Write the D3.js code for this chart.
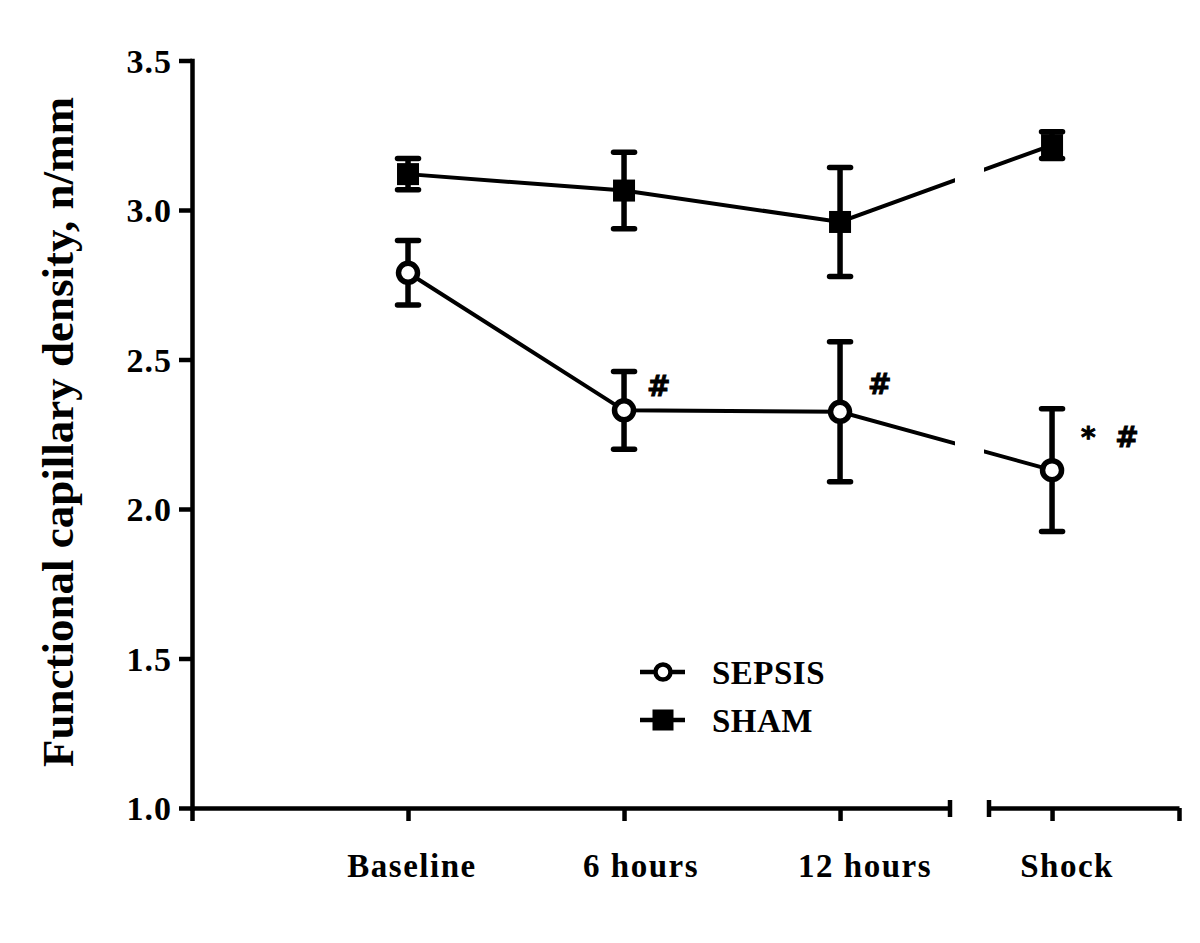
<!DOCTYPE html>
<html>
<head>
<meta charset="utf-8">
<script src="https://cdn.jsdelivr.net/npm/d3@7"></script>
<style>
  html, body { margin: 0; padding: 0; background: #fff; }
  svg { display: block; }
</style>
</head>
<body>
<svg id="chart" width="1200" height="943"></svg>
<script>
// ---------------- DATA ----------------
const categories = ["Baseline", "6 hours", "12 hours", "Shock"];
const sepsisMean = [2.79, 2.33, 2.325, 2.13];
const sepsisErr  = [0.108, 0.13, 0.234, 0.205];
const shamMean   = [3.12, 3.065, 2.96, 3.217];
const shamErr    = [0.052, 0.128, 0.182, 0.045];
const yTicks     = [1.0, 1.5, 2.0, 2.5, 3.0, 3.5];
const seriesNames = ["SEPSIS", "SHAM"];
const yTitle = "Functional capillary density, n/mm";
const annotations = [
  { series: "SEPSIS", cat: "6 hours",  text: "#" },
  { series: "SEPSIS", cat: "12 hours", text: "#" },
  { series: "SEPSIS", cat: "Shock",    text: "* #" }
];

// ---------------- LAYOUT ----------------
const svg = d3.select("#chart");
const serif = "'Liberation Serif', 'Times New Roman', serif";
const axisW = 4.5;

const y = d3.scaleLinear().domain([1, 3.5]).range([808, 60.5]);
// broken x axis: two segments sharing the same unit size
const xA = d3.scaleLinear().domain([-1, 2.509]).range([192, 950]);
const xB = d3.scaleLinear().domain([2.708, 3.588]).range([989, 1179]);
const xi = i => (i <= 2 ? xA(i) : xB(i));
const gapLo = 955, gapHi = 984;

const series = [
  { name: "SEPSIS", mean: sepsisMean, err: sepsisErr, shape: "circle" },
  { name: "SHAM",   mean: shamMean,   err: shamErr,   shape: "square" }
];

// clip path removing the axis-break gap from the connecting lines
const defs = svg.append("defs");
const cp = defs.append("clipPath").attr("id", "gapclip");
cp.append("rect").attr("x", 0).attr("y", 0).attr("width", gapLo).attr("height", 943);
cp.append("rect").attr("x", gapHi).attr("y", 0).attr("width", 1200 - gapHi).attr("height", 943);

// ---------------- AXES ----------------
const yAxis = d3.axisLeft(y).tickValues(yTicks).tickFormat(d3.format(".1f"))
  .tickSize(13).tickSizeOuter(0).tickPadding(7);
const gy = svg.append("g").attr("transform", `translate(${xA(-1)},0)`).call(yAxis);
gy.selectAll("path, line").attr("stroke", "#000").attr("stroke-width", axisW);
gy.select(".domain").attr("stroke-linecap", "square");
gy.selectAll("text").attr("font-family", serif).attr("font-weight", "bold")
  .attr("font-size", 34).attr("letter-spacing", 1).attr("fill", "#000").attr("dy", "0.34em");

const xAxisA = d3.axisBottom(xA).tickValues([-1, 0, 1, 2]).tickFormat("").tickSize(13).tickSizeOuter(0);
const xAxisB = d3.axisBottom(xB).tickValues([3, 3.588]).tickFormat("").tickSize(13).tickSizeOuter(0);
const gxA = svg.append("g").attr("transform", `translate(0,${y(1)})`).call(xAxisA);
const gxB = svg.append("g").attr("transform", `translate(0,${y(1)})`).call(xAxisB);
[gxA, gxB].forEach(g => g.selectAll("path, line").attr("stroke", "#000").attr("stroke-width", axisW));
// break caps
[xA.range()[1], xB.range()[0]].forEach(xx => {
  svg.append("line").attr("x1", xx).attr("x2", xx)
    .attr("y1", y(1) - 8).attr("y2", y(1) + 9)
    .attr("stroke", "#000").attr("stroke-width", axisW);
});

// category labels
const labelDx = [4, 17, 25, 15];
svg.append("g").selectAll("text").data(categories).join("text")
  .attr("x", (d, i) => xi(i) + labelDx[i])
  .attr("y", 877)
  .attr("text-anchor", "middle")
  .attr("font-family", serif).attr("font-weight", "bold").attr("font-size", 33)
  .attr("letter-spacing", 1.5)
  .text(d => d);

// y title
svg.append("text")
  .attr("transform", "translate(73,432) rotate(-90)")
  .attr("text-anchor", "middle")
  .attr("font-family", serif).attr("font-weight", "bold").attr("font-size", 45)
  .text(yTitle);

// ---------------- DATA MARKS ----------------
const line = d3.line().x((d, i) => xi(i)).y(d => y(d));
series.forEach(s => {
  svg.append("path").datum(s.mean)
    .attr("d", line)
    .attr("fill", "none").attr("stroke", "#000").attr("stroke-width", 4)
    .attr("clip-path", "url(#gapclip)");
});

// error bars
series.forEach(s => {
  const g = svg.append("g");
  s.mean.forEach((m, i) => {
    const cx = xi(i), hi = y(m + s.err[i]), lo = y(m - s.err[i]);
    g.append("line").attr("x1", cx).attr("x2", cx).attr("y1", hi).attr("y2", lo)
      .attr("stroke", "#000").attr("stroke-width", 5.5);
    [hi, lo].forEach(yy => g.append("line")
      .attr("x1", cx - 10.5).attr("x2", cx + 10.5).attr("y1", yy).attr("y2", yy)
      .attr("stroke", "#000").attr("stroke-width", 5.5).attr("stroke-linecap", "round"));
  });
});

// markers
function drawMarker(g, shape, cx, cy, big) {
  if (shape === "circle") {
    g.append("circle").attr("cx", cx).attr("cy", cy).attr("r", big ? 9.5 : 7.5)
      .attr("fill", "#fff").attr("stroke", "#000").attr("stroke-width", big ? 5.5 : 4.5);
  } else {
    const s = big ? 22 : 21;
    g.append("rect").attr("x", cx - s / 2).attr("y", cy - s / 2).attr("width", s).attr("height", s)
      .attr("fill", "#000");
  }
}
series.forEach(s => {
  const g = svg.append("g");
  s.mean.forEach((m, i) => drawMarker(g, s.shape, xi(i), y(m), true));
});

// annotations
const annDx = { "6 hours": 23, "12 hours": 28, "Shock": 29 };
const annDy = { "6 hours": -14, "12 hours": -18, "Shock": -23 };
annotations.forEach(a => {
  const s = series.find(t => t.name === a.series);
  const i = categories.indexOf(a.cat);
  svg.append("text")
    .attr("x", xi(i) + annDx[a.cat])
    .attr("y", y(s.mean[i]) + annDy[a.cat])
    .attr("font-family", "'DejaVu Sans', sans-serif").attr("font-weight", "bold")
    .attr("font-size", 28)
    .attr("stroke", "#000").attr("stroke-width", 0.9)
    .style("white-space", "pre")
    .text(a.text.replace(" ", "  "));
});

// ---------------- LEGEND ----------------
const legend = svg.append("g");
const legY = [672, 720];
series.forEach((s, k) => {
  legend.append("line").attr("x1", 640).attr("x2", 685).attr("y1", legY[k]).attr("y2", legY[k])
    .attr("stroke", "#000").attr("stroke-width", 4.5);
  drawMarker(legend, s.shape, 663, legY[k], false);
  legend.append("text").attr("x", 712).attr("y", legY[k] + 12)
    .attr("font-family", serif).attr("font-weight", "bold").attr("font-size", 33)
    .attr("letter-spacing", 0.5)
    .text(seriesNames[k]);
});
</script>
</body>
</html>
